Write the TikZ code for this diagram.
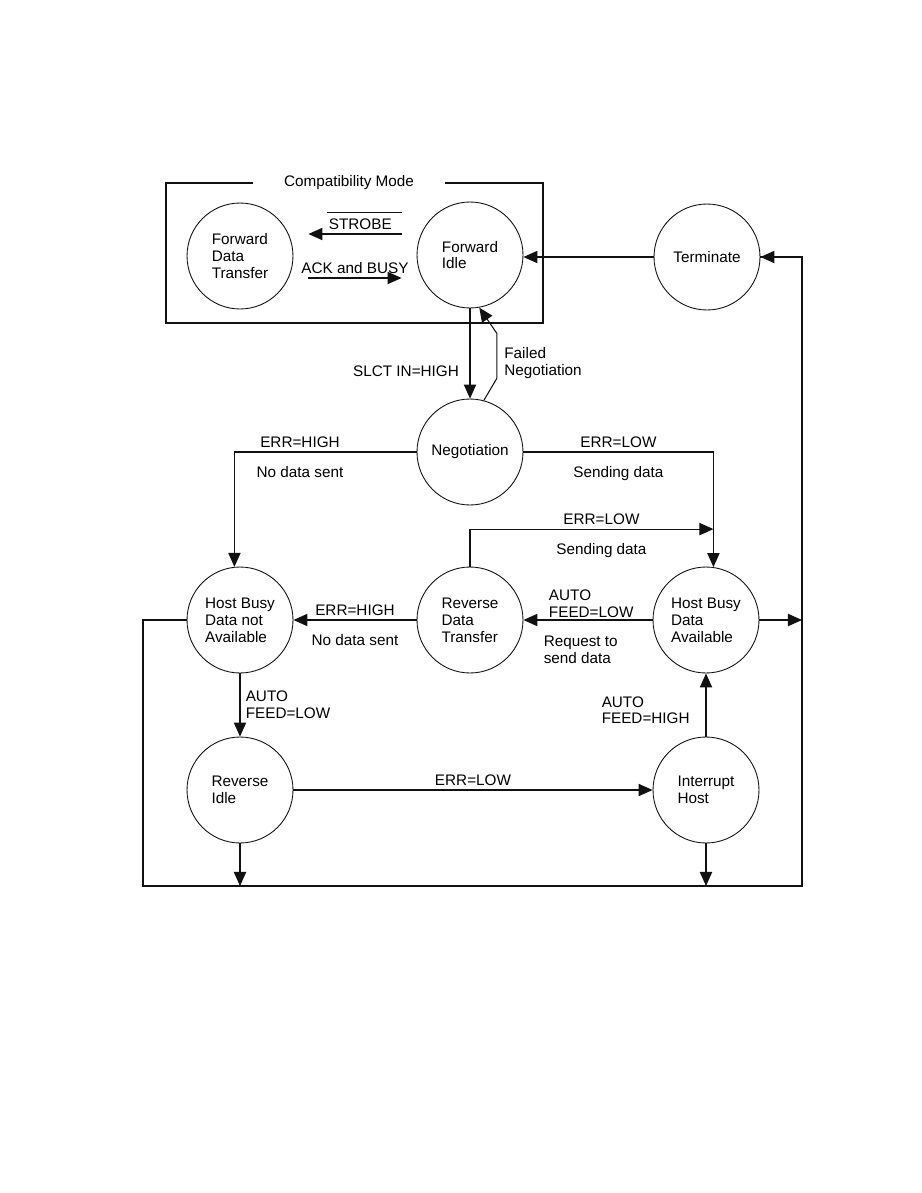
\documentclass[tikz,border=0pt]{standalone}
\usepackage{fontspec}
\setmainfont{Liberation Sans}
\usepackage{tikz}
\usetikzlibrary{arrows.meta,calc}
\definecolor{ecpink}{HTML}{111111}

\tikzset{
  state/.style={draw=ecpink, circle, line width=0.5pt, minimum size=2.12cm, inner sep=0pt, align=left},
  flow/.style={draw=ecpink, line width=0.6pt, -{Triangle[length=8pt,width=7pt]}},
  frame/.style={draw=ecpink, line width=0.8pt},
  lbl/.style={inner sep=1pt, align=left},
  toplbl/.style={lbl, above=1pt},
  botlbl/.style={lbl, below=7pt}
}

\begin{document}
\begin{tikzpicture}[x=0.02cm, y=-0.02cm, font=\fontsize{8.7}{9.6}\selectfont]
  \useasboundingbox (0,0) rectangle (921,1193);

  \node[state] (fdt)   at (240,256) {Forward\\Data\\Transfer};
  \node[state] (fidle) at (470,255) {Forward\\Idle};
  \node[state] (term)  at (707,257) {Terminate};
  \node[state] (neg)   at (470,452) {Negotiation};
  \node[state] (hbdn)  at (240,620) {Host Busy\\Data not\\Available};
  \node[state] (rdt)   at (470,620) {Reverse\\Data\\Transfer};
  \node[state] (hbda)  at (706,620) {Host Busy\\Data\\Available};
  \node[state] (ridle) at (240,790) {Reverse\\Idle};
  \node[state] (ihost) at (706,790) {Interrupt\\Host};

  % compatibility mode frame
  \node[inner xsep=0.62cm, inner ysep=0pt] (cmode) at (349,183) {Compatibility Mode};
  \coordinate (cbl) at (166,323);
  \coordinate (ctr) at (543,183);
  \draw[frame] (cmode.west) -| (cbl) -| (ctr) -- (cmode.east);

  \coordinate (sbeg) at ($(fidle.west)+(-15,-21)$);
  \draw[flow] (sbeg) -- ($(fdt.east)+(15,-22)$) node[midway, toplbl, xshift=3pt] (strobe) {STROBE};
  \path ([yshift=2.5pt]strobe.north west) coordinate (ol);
  \draw[draw=ecpink, line width=0.6pt] (ol) -- (ol -| sbeg);
  \draw[flow] ($(fdt.east)+(15,22)$) -- ($(fidle.west)+(-15,23)$) node[midway, toplbl] {ACK and BUSY};

  \draw[flow] (term.west) -- (term.west -| fidle.east);
  \draw[flow] (fidle.south) -- (neg.north) node[pos=0.7, lbl, left=5pt] {SLCT IN=HIGH};
  \draw[flow] (neg.75) -- ++(13,-22) -- ++(0,-45) node[pos=0.35, lbl, right=3pt] {Failed\\Negotiation} -- (fidle.-80);

  \draw[flow] (neg.west) -| (hbdn.96)
    node[pos=0.32, toplbl] {ERR=HIGH} node[pos=0.32, botlbl] {No data sent};
  \draw[flow] (neg.east) -| (hbda.82)
    node[pos=0.25, toplbl] {ERR=LOW} node[pos=0.25, botlbl] {Sending data};

  \coordinate (join) at ($(hbda.82)+(0,-38)$);
  \draw[flow] (rdt.north) |- (join)
    node[pos=0.77, toplbl] {ERR=LOW} node[pos=0.77, botlbl] {Sending data};

  \draw[flow] (hbda.west) -- (rdt.east)
    node[pos=0.82, lbl, anchor=south west] {AUTO\\FEED=LOW}
    node[pos=0.86, lbl, anchor=north west, yshift=-8pt] {Request to\\send data};
  \draw[flow] (rdt.west) -- (hbdn.east)
    node[midway, toplbl] {ERR=HIGH} node[midway, botlbl] {No data sent};

  \draw[flow] (hbdn.south) -- (ridle.north) node[midway, lbl, right=2pt] {AUTO\\FEED=LOW};
  \draw[flow] (ridle.east) -- (ihost.west) node[midway, toplbl] {ERR=LOW};
  \draw[flow] (ihost.north) -- (hbda.south) node[midway, lbl, left=8pt, yshift=-3pt] {AUTO\\FEED=HIGH};

  % return path to terminate
  \coordinate (bl) at (143,886);
  \coordinate (br) at (802,886);
  \draw[frame] (hbdn.west) -| (bl) -- (br) |- (term.east);
  \draw[flow] (br |- term.east) -- (term.east);
  \draw[flow] (ridle.south) -- (ridle.south |- bl);
  \draw[flow] (ihost.south) -- (ihost.south |- bl);
  \draw[flow] (hbda.east) -- (hbda.east -| br);
\end{tikzpicture}
\end{document}
